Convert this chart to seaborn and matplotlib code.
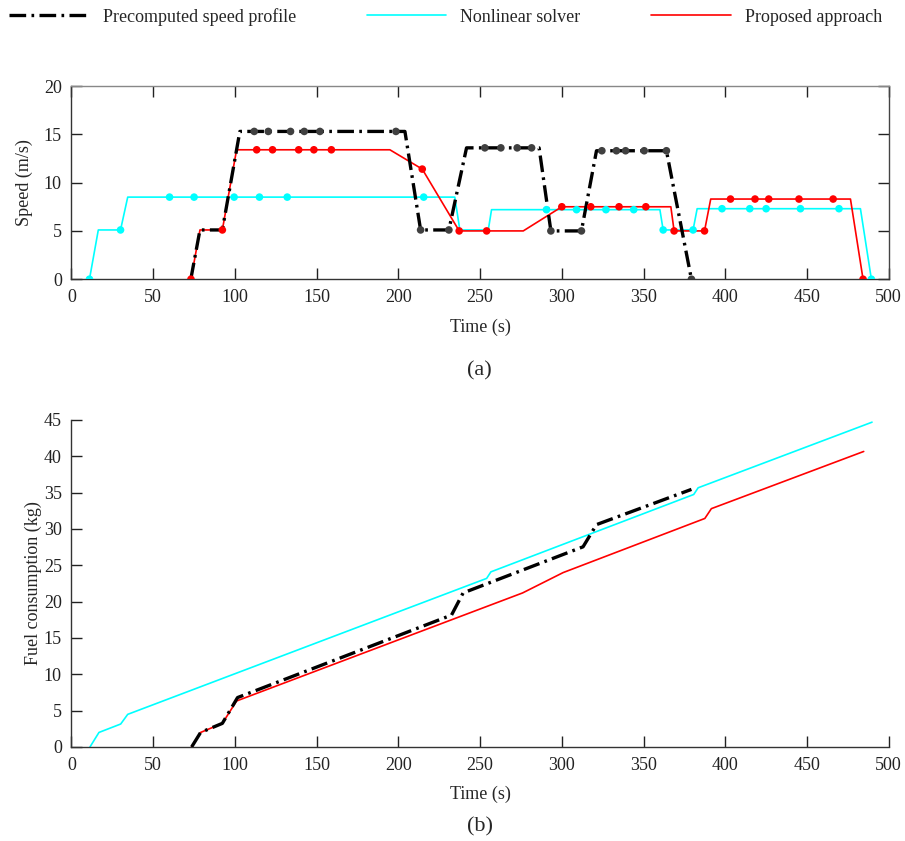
import pandas as pd
import seaborn as sns
import matplotlib.pyplot as plt
from matplotlib.lines import Line2D

# speed profiles (a)
pre_t = [73, 78.6, 92.3, 103, 204, 213.6, 230.9, 241.7, 286.1, 293.3, 312, 321.2, 364, 379.3]
pre_v = [0, 5.1, 5.1, 15.3, 15.3, 5.1, 5.1, 13.6, 13.6, 5.0, 5.0, 13.3, 13.3, 0]
pre_mk_t = [111.8, 120.4, 134, 142.4, 152, 198.5, 213.6, 230.9, 252.9, 262.7, 272.7, 281.5,
            293.3, 312, 324.5, 333.4, 339, 350.4, 364, 379.3]
pre_mk_v = [15.3, 15.3, 15.3, 15.3, 15.3, 15.3, 5.1, 5.1, 13.6, 13.6, 13.6, 13.6,
            5.0, 5.0, 13.3, 13.3, 13.3, 13.3, 13.3, 0]

nls_t = [11, 16.4, 30, 34.4, 234.5, 237.6, 255, 257, 360, 362, 380.3, 382.8, 482.7, 489.4]
nls_v = [0, 5.1, 5.1, 8.5, 8.5, 5.1, 5.1, 7.2, 7.2, 5.1, 5.1, 7.3, 7.3, 0]
nls_mk_t = [11, 30, 60, 75, 99.5, 115, 132, 215.5, 290.6, 309, 327, 344, 362, 380.3,
            398, 415, 425, 446, 469.6, 489.4]
nls_mk_v = [0, 5.1, 8.5, 8.5, 8.5, 8.5, 8.5, 8.5, 7.2, 7.2, 7.2, 7.2, 5.1, 5.1,
            7.3, 7.3, 7.3, 7.3, 7.3, 0]

prop_t = [73.1, 78.6, 92.3, 101, 194.8, 214.6, 237.2, 276.4, 300, 366.7, 368.7, 387.3, 391.1, 476.6, 484.3]
prop_v = [0, 5.1, 5.1, 13.4, 13.4, 11.4, 5.0, 5.0, 7.5, 7.5, 5.0, 5.0, 8.3, 8.3, 0]
prop_mk_t = [73.1, 92.3, 113.3, 123, 139, 148.3, 159, 214.6, 237.2, 254, 300, 317.7, 335, 351.4,
             368.7, 387.3, 403.2, 418.2, 426.6, 445.1, 466, 484.3]
prop_mk_v = [0, 5.1, 13.4, 13.4, 13.4, 13.4, 13.4, 11.4, 5.0, 5.0, 7.5, 7.5, 7.5, 7.5,
             5.0, 5.0, 8.3, 8.3, 8.3, 8.3, 8.3, 0]

# fuel consumption (b)
pre_fuel_t = [73.5, 79, 92.3, 101.6, 232.5, 239.6, 313, 321.2, 379.3]
pre_fuel = [0, 2.0, 3.25, 6.8, 18.15, 21.2, 27.55, 30.6, 35.45]
nls_fuel_t = [11.3, 16.8, 30.1, 34.4, 254, 256.6, 380.7, 383.4, 489.8]
nls_fuel = [0, 2.0, 3.16, 4.49, 23.2, 24.1, 34.75, 35.67, 44.7]
prop_fuel_t = [73.5, 79, 92.3, 101, 276, 300.8, 387.5, 391.5, 484.7]
prop_fuel = [0, 2.0, 3.25, 6.33, 21.2, 24.0, 31.45, 32.8, 40.67]

CYAN = '#00FFFF'
RED = '#FF0000'
DASH = (5, 1.6, 0.8, 1.6)

sns.set_theme(style="ticks")
plt.rcParams['font.family'] = ['Liberation Serif', 'DejaVu Serif']
plt.rcParams['font.size'] = 13

fig = plt.figure(figsize=(9.05, 8.41), dpi=100)
ax1 = fig.add_axes([0.079, 0.668, 0.903, 0.2297])
ax2 = fig.add_axes([0.079, 0.1118, 0.903, 0.3888])


def line(ax, t, v, **kw):
    df = pd.DataFrame({'t': t, 'v': v})
    sns.lineplot(data=df, x='t', y='v', ax=ax, estimator=None, sort=False, **kw)


def dots(ax, t, v, color, z):
    df = pd.DataFrame({'t': t, 'v': v})
    sns.scatterplot(data=df, x='t', y='v', ax=ax, color=color, s=30, edgecolor='none', zorder=z)


# (a) speed
line(ax1, nls_t, nls_v, color=CYAN, linewidth=1.2, zorder=2)
line(ax1, prop_t, prop_v, color=RED, linewidth=1.2, zorder=3)
line(ax1, pre_t, pre_v, color='black', linewidth=2.4, dashes=DASH, zorder=4)
dots(ax1, nls_mk_t, nls_mk_v, CYAN, 5)
dots(ax1, pre_mk_t, pre_mk_v, '#404040', 6)
dots(ax1, prop_mk_t, prop_mk_v, RED, 7)

# (b) fuel
line(ax2, nls_fuel_t, nls_fuel, color=CYAN, linewidth=1.2, zorder=2)
line(ax2, prop_fuel_t, prop_fuel, color=RED, linewidth=1.2, zorder=3)
line(ax2, pre_fuel_t, pre_fuel, color='black', linewidth=2.4, dashes=DASH, zorder=4)

for ax in (ax1, ax2):
    ax.set_xlim(0, 500)
    ax.set_xticks(range(0, 501, 50))
    ax.set_xlabel('Time (s)', fontsize=13)
    ax.tick_params(direction='in', length=8, width=1, labelsize=13, pad=7, colors='#222222')
    ax.xaxis.set_label_coords(0.5, -0.205 if ax is ax1 else -0.119)
    for s in ax.spines.values():
        s.set_linewidth(1)
        s.set_color('#333333')

ax1.set_ylim(0, 20)
ax1.set_yticks(range(0, 21, 5))
ax1.set_ylabel('Speed (m/s)', fontsize=13)
ax1.yaxis.set_label_coords(-0.047, 0.5)
ax1.tick_params(top=True, right=True)
ax1.spines['top'].set_color('#888888')
ax1.spines['right'].set_color('#444444')

ax2.set_ylim(0, 45)
ax2.set_yticks(range(0, 46, 5))
ax2.set_ylabel('Fuel consumption (kg)', fontsize=13)
ax2.yaxis.set_label_coords(-0.036, 0.5)
sns.despine(ax=ax2)

fig.text(0.53, 0.559, '(a)', ha='center', va='center', fontsize=16)
fig.text(0.53, 0.0166, '(b)', ha='center', va='center', fontsize=16)

handles = [
    Line2D([], [], color='black', linewidth=2.4, dashes=DASH),
    Line2D([], [], color=CYAN, linewidth=1.2),
    Line2D([], [], color=RED, linewidth=1.2),
]
labels = ['Precomputed speed profile', 'Nonlinear solver', 'Proposed approach']
fig.legend(handles, labels, loc='center left', bbox_to_anchor=(-0.008, 0.980), ncol=3,
           frameon=False, fontsize=13, handlelength=4.4, handletextpad=0.8, columnspacing=3.9)

fig.savefig('out.png', dpi=100)
